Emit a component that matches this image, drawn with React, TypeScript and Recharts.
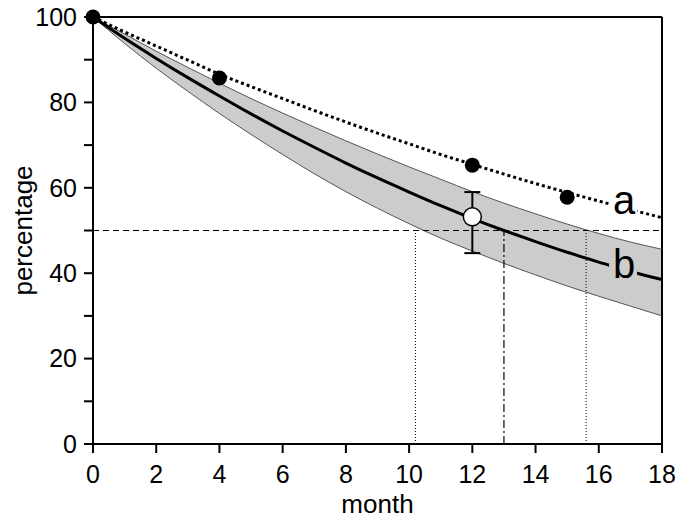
import {
  ComposedChart,
  XAxis,
  YAxis,
  Area,
  Line,
  Scatter,
  ErrorBar,
  ReferenceLine,
  ReferenceDot,
} from "recharts";

const FONT = '"Liberation Sans", Arial, sans-serif';

// values
const months = [0, 1, 2, 3, 4, 5, 6, 7, 8, 9, 10, 11, 12, 13, 14, 15, 16, 17, 18];
const curveA = [100, 96.5, 93.2, 89.9, 86.6, 83.7, 80.9, 78.1, 75.4, 72.8, 70.3, 67.8, 65.5, 63.2, 61.0, 58.9, 56.9, 54.9, 53.0];
const curveB = [100, 95.0, 90.3, 85.8, 81.5, 77.3, 73.3, 69.5, 65.8, 62.3, 59.0, 55.8, 52.8, 50.0, 47.4, 44.9, 42.6, 40.4, 38.5];
const bandLow = [100, 93.8, 88.0, 82.6, 77.4, 72.5, 67.8, 63.3, 59.1, 55.2, 51.6, 48.2, 45.2, 42.3, 39.6, 37.0, 34.6, 32.3, 30.0];
const bandHigh = [100, 96.0, 92.0, 88.2, 84.5, 80.9, 77.5, 74.2, 71.0, 67.9, 64.9, 62.0, 59.1, 56.4, 53.9, 51.5, 49.3, 47.3, 45.6];

const pointX = [0, 4, 12, 15];
const pointY = [100, 85.7, 65.3, 57.8];

const openX = 12;
const openY = 53.2;
const openErr = [8.5, 5.8];

const halfLife = 50;
const crossLow = 10.2;
const crossMid = 13.0;
const crossHigh = 15.6;

// where the curve labels sit on their lines
const labelX = 16.8;
const labelA = 55.3;
const labelB = 40.8;

const xTicks = [0, 2, 4, 6, 8, 10, 12, 14, 16, 18];
const yTicks = [0, 10, 20, 30, 40, 50, 60, 70, 80, 90, 100];

const curveData = months.map((m, i) => ({
  month: m,
  a: curveA[i],
  b: curveB[i],
  low: bandLow[i],
  high: bandHigh[i],
  band: [bandLow[i], bandHigh[i]],
}));
const pointData = pointX.map((x, i) => ({ month: x, value: pointY[i] }));
const openData = [{ month: openX, value: openY, err: openErr }];

const tickStyle = { fill: "#000", fontSize: 25, fontFamily: FONT };
const axisStroke = { stroke: "#000", strokeWidth: 2 };

function CurveLabel(props: any) {
  const { cx, cy, text, bg, drop } = props;
  return (
    <g>
      <rect x={cx - 15} y={cy - 6} width={28} height={12} fill={bg} />
      <text x={cx} y={cy + drop} textAnchor="middle" fontSize={40} fontFamily={FONT} fill="#000">
        {text}
      </text>
    </g>
  );
}

export default function App() {
  return (
    <div style={{ position: "absolute", left: 0, top: 0, background: "#fff" }}>
      <ComposedChart
        width={680}
        height={520}
        data={curveData}
        margin={{ top: 17, right: 18, bottom: 0, left: 0 }}
      >
        <XAxis
          dataKey="month"
          type="number"
          domain={[0, 18]}
          ticks={xTicks}
          interval={0}
          height={76}
          tickSize={9}
          tickMargin={12}
          tick={tickStyle}
          tickLine={axisStroke}
          axisLine={axisStroke}
          label={{
            value: "month",
            position: "center",
            dy: 22,
            fill: "#000",
            fontSize: 26,
            fontFamily: FONT,
          }}
        />
        <YAxis
          type="number"
          domain={[0, 100]}
          ticks={yTicks}
          interval={0}
          width={93}
          tickSize={9}
          tickMargin={7}
          tick={tickStyle}
          tickLine={axisStroke}
          axisLine={axisStroke}
          tickFormatter={(v: number) => (v % 20 === 0 ? String(v) : "")}
          label={{
            value: "percentage",
            angle: -90,
            position: "center",
            dx: -24,
            fill: "#000",
            fontSize: 26,
            fontFamily: FONT,
          }}
        />
        <ReferenceLine y={100} stroke="#000" strokeWidth={2} />
        <ReferenceLine x={18} stroke="#000" strokeWidth={2} />
        <Area
          dataKey="band"
          type="monotone"
          fill="#cccccc"
          fillOpacity={1}
          stroke="none"
          isAnimationActive={false}
        />
        <Line dataKey="low" type="monotone" stroke="#555" strokeWidth={1} dot={false} isAnimationActive={false} />
        <Line dataKey="high" type="monotone" stroke="#555" strokeWidth={1} dot={false} isAnimationActive={false} />
        <ReferenceLine y={halfLife} stroke="#000" strokeWidth={1.2} strokeDasharray="6 4" />
        <ReferenceLine
          segment={[{ x: crossLow, y: 0 }, { x: crossLow, y: halfLife }]}
          stroke="#000"
          strokeWidth={1}
          strokeDasharray="1 2"
        />
        <ReferenceLine
          segment={[{ x: crossMid, y: 0 }, { x: crossMid, y: halfLife }]}
          stroke="#000"
          strokeWidth={1.2}
          strokeDasharray="8 3 2 3"
        />
        <ReferenceLine
          segment={[{ x: crossHigh, y: 0 }, { x: crossHigh, y: halfLife }]}
          stroke="#000"
          strokeWidth={1}
          strokeDasharray="1 2"
        />
        <Line dataKey="b" type="monotone" stroke="#000" strokeWidth={3} dot={false} isAnimationActive={false} />
        <Line
          dataKey="a"
          type="monotone"
          stroke="#000"
          strokeWidth={3}
          strokeDasharray="3 3"
          dot={false}
          isAnimationActive={false}
        />
        <Scatter
          data={pointData}
          dataKey="value"
          isAnimationActive={false}
          shape={(p: any) => <circle cx={p.cx} cy={p.cy} r={7.5} fill="#000" />}
        />
        <Scatter
          data={openData}
          dataKey="value"
          isAnimationActive={false}
          shape={(p: any) => (
            <circle cx={p.cx} cy={p.cy} r={9} fill="#fff" stroke="#000" strokeWidth={1.5} />
          )}
        >
          <ErrorBar dataKey="err" direction="y" width={8} stroke="#000" strokeWidth={2} />
        </Scatter>
        <ReferenceDot
          x={labelX}
          y={labelA}
          r={0}
          shape={(p: any) => <CurveLabel {...p} text="a" bg="#fff" drop={6} />}
        />
        <ReferenceDot
          x={labelX}
          y={labelB}
          r={0}
          shape={(p: any) => <CurveLabel {...p} text="b" bg="#cccccc" drop={8} />}
        />
      </ComposedChart>
    </div>
  );
}
